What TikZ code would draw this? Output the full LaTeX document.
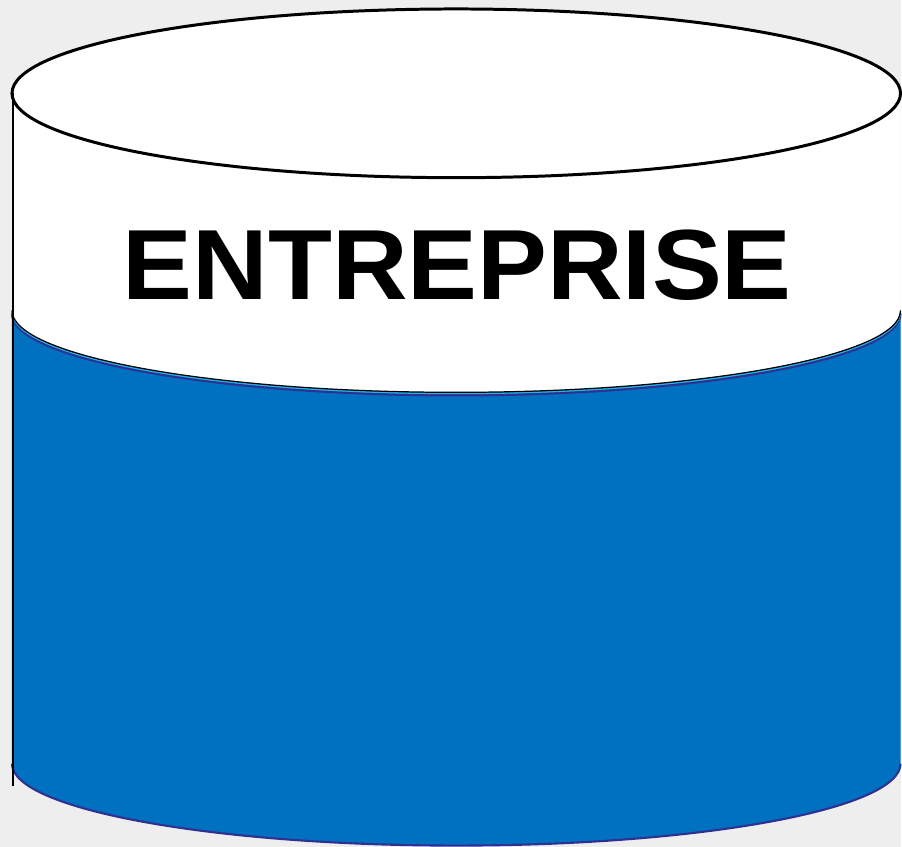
\documentclass[tikz,border=0pt]{standalone}
\usepackage{fontspec}
\newfontfamily\signfont{Liberation Sans}
\definecolor{bggray}{HTML}{EEEEEE}
\definecolor{entblue}{HTML}{0070C0}
\definecolor{rimblue}{HTML}{2E3192}
\definecolor{rimcyan}{HTML}{1FB5EA}
\begin{document}
\begin{tikzpicture}[x=0.01cm, y=0.01cm,
  topedge/.style={draw=black, line width=0.85pt},
  bandedge/.style={line width=#1},
  sideline/.style={draw=black, line width=0.6pt}]
% Background (fixes the page size)
\fill[bggray] (0,0) rectangle (902,848);

% Blue body of the drum
\fill[entblue] (12,537) -- (12,83) arc[start angle=180, end angle=360, x radius=445, y radius=82]
  -- (902,537) arc[start angle=0, end angle=-180, x radius=445, y radius=82] -- cycle;
\draw[rimblue, line width=0.6pt] (12,83) arc[start angle=180, end angle=360, x radius=445, y radius=82];

% White band under the lid
\fill[white] (12,755) -- (12,537) arc[start angle=180, end angle=360, x radius=445, y radius=82]
  -- (902,755) -- cycle;
\draw[rimblue, bandedge=0.65pt] (12,534) arc[start angle=180, end angle=360, x radius=445, y radius=82];
\draw[rimcyan, bandedge=0.4pt] (12,535.8) arc[start angle=180, end angle=360, x radius=445, y radius=82];
\draw[black, bandedge=0.35pt] (12,537) arc[start angle=180, end angle=360, x radius=445, y radius=82];

% Lid
\draw[topedge, fill=white] (457,754.5) ellipse[x radius=445, y radius=84.5];

% Left side line
\draw[sideline] (13,755) -- (13,61);

% Label
\node[anchor=base, inner sep=0pt, xscale=1.05, font=\signfont\bfseries\fontsize{28.4}{30}\selectfont] (title) at (458,548) {ENTREPRISE};
\end{tikzpicture}
\end{document}
